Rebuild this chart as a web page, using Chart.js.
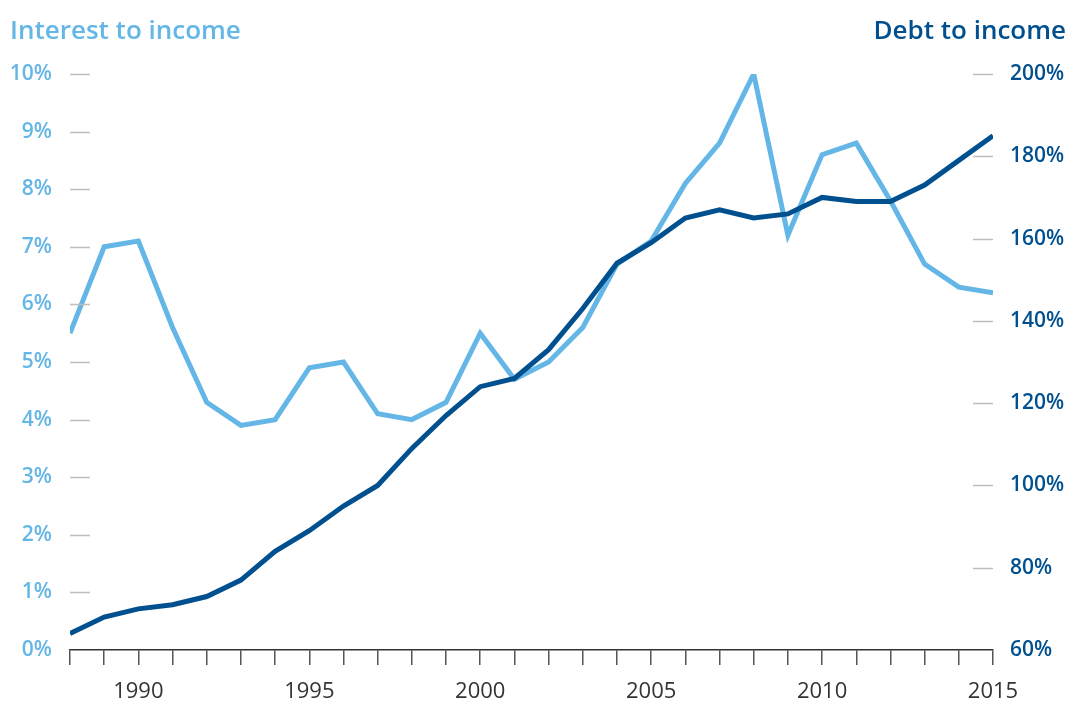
<!DOCTYPE html>
<html>
<head>
<meta charset="utf-8">
<script src="https://cdn.jsdelivr.net/npm/chart.js@4"></script>
<style>
  html, body { margin: 0; padding: 0; background: #fff; }
  #wrap { width: 1071px; height: 702px; }
</style>
</head>
<body>
<div id="wrap"><canvas id="chart" width="1071" height="702"></canvas></div>
<script>
const years = [1988, 1989, 1990, 1991, 1992, 1993, 1994, 1995, 1996, 1997, 1998, 1999, 2000, 2001,
               2002, 2003, 2004, 2005, 2006, 2007, 2008, 2009, 2010, 2011, 2012, 2013, 2014, 2015];
const interestToIncome = [5.5, 7.0, 7.1, 5.6, 4.3, 3.9, 4.0, 4.9, 5.0, 4.1, 4.0, 4.3, 5.5, 4.7,
                          5.0, 5.6, 6.7, 7.1, 8.1, 8.8, 10.0, 7.2, 8.6, 8.8, 7.8, 6.7, 6.3, 6.2];
const debtToIncome = [64, 68, 70, 71, 73, 77, 84, 89, 95, 100, 109, 117, 124, 126,
                      133, 143, 154, 159, 165, 167, 165, 166, 170, 169, 169, 173, 179, 185];
const leftTicks = [0, 1, 2, 3, 4, 5, 6, 7, 8, 9, 10];
const rightTicks = [60, 80, 100, 120, 140, 160, 180, 200];

const lightBlue = '#63b6e6';
const darkBlue = '#00508f';
const fontFamily = "'Open Sans', 'Noto Sans', sans-serif";

// short grey marks next to the y labels, inside the plot area
const shortMarks = {
    id: 'shortMarks',
    afterDraw(chart) {
        const ctx = chart.ctx;
        const area = chart.chartArea;
        ctx.save();
        ctx.strokeStyle = '#bdbdbd';
        ctx.lineWidth = 1.5;
        leftTicks.slice(1).forEach(v => {
            const y = Math.round(chart.scales.yLeft.getPixelForValue(v)) + 0.5;
            ctx.beginPath();
            ctx.moveTo(area.left, y);
            ctx.lineTo(area.left + 20, y);
            ctx.stroke();
        });
        rightTicks.slice(1).forEach(v => {
            const y = Math.round(chart.scales.yRight.getPixelForValue(v)) + 0.5;
            ctx.beginPath();
            ctx.moveTo(area.right - 20, y);
            ctx.lineTo(area.right, y);
            ctx.stroke();
        });
        ctx.restore();
    }
};

// axis titles at the top corners
const cornerTitles = {
    id: 'cornerTitles',
    afterDraw(chart) {
        const ctx = chart.ctx;
        ctx.save();
        ctx.font = '600 26px ' + fontFamily;
        ctx.textBaseline = 'alphabetic';
        ctx.fillStyle = lightBlue;
        ctx.textAlign = 'left';
        ctx.fillText('Interest to income', 10, 39);
        ctx.fillStyle = darkBlue;
        ctx.textAlign = 'right';
        ctx.fillText('Debt to income', 1066, 39);
        ctx.restore();
    }
};

new Chart(document.getElementById('chart'), {
    type: 'line',
    data: {
        datasets: [
            {
                label: 'Debt to income',
                data: years.map((y, i) => ({ x: y, y: debtToIncome[i] })),
                yAxisID: 'yRight',
                borderColor: darkBlue,
                borderWidth: 5,
                pointRadius: 0,
                tension: 0,
                order: 0
            },
            {
                label: 'Interest to income',
                data: years.map((y, i) => ({ x: y, y: interestToIncome[i] })),
                yAxisID: 'yLeft',
                borderColor: lightBlue,
                borderWidth: 5,
                pointRadius: 0,
                tension: 0,
                order: 1
            }
        ]
    },
    options: {
        responsive: false,
        animation: false,
        layout: { padding: { top: 74, left: 0, right: 0, bottom: 0 } },
        plugins: {
            legend: { display: false },
            tooltip: { enabled: false }
        },
        scales: {
            x: {
                type: 'linear',
                min: 1988,
                max: 2015,
                afterFit: s => { s.height = 52; },
                border: { display: true, color: '#333', width: 1.5 },
                grid: { drawOnChartArea: false, drawTicks: true, tickLength: 15, color: '#555', lineWidth: 1.5 },
                ticks: {
                    stepSize: 1,
                    autoSkip: false,
                    maxRotation: 0,
                    padding: 14,
                    color: '#333',
                    font: { family: fontFamily, size: 22 },
                    callback: v => (v % 5 === 0 ? String(v) : '')
                }
            },
            yLeft: {
                type: 'linear',
                position: 'left',
                min: 0,
                max: 10,
                afterFit: s => { s.width = 70; },
                border: { display: false },
                grid: { display: false, drawTicks: false },
                afterBuildTicks: s => { s.ticks = leftTicks.map(v => ({ value: v })); },
                ticks: {
                    padding: 18,
                    color: lightBlue,
                    font: { family: fontFamily, size: 21, weight: '600' },
                    callback: v => v + '%'
                }
            },
            yRight: {
                type: 'linear',
                position: 'right',
                min: 60,
                max: 200,
                afterFit: s => { s.width = 78; },
                border: { display: false },
                grid: { display: false, drawTicks: false },
                afterBuildTicks: s => { s.ticks = rightTicks.map(v => ({ value: v })); },
                ticks: {
                    padding: 17,
                    color: darkBlue,
                    font: { family: fontFamily, size: 21, weight: '600' },
                    callback: v => v + '%'
                }
            }
        }
    },
    plugins: [shortMarks, cornerTitles]
});
</script>
</body>
</html>
